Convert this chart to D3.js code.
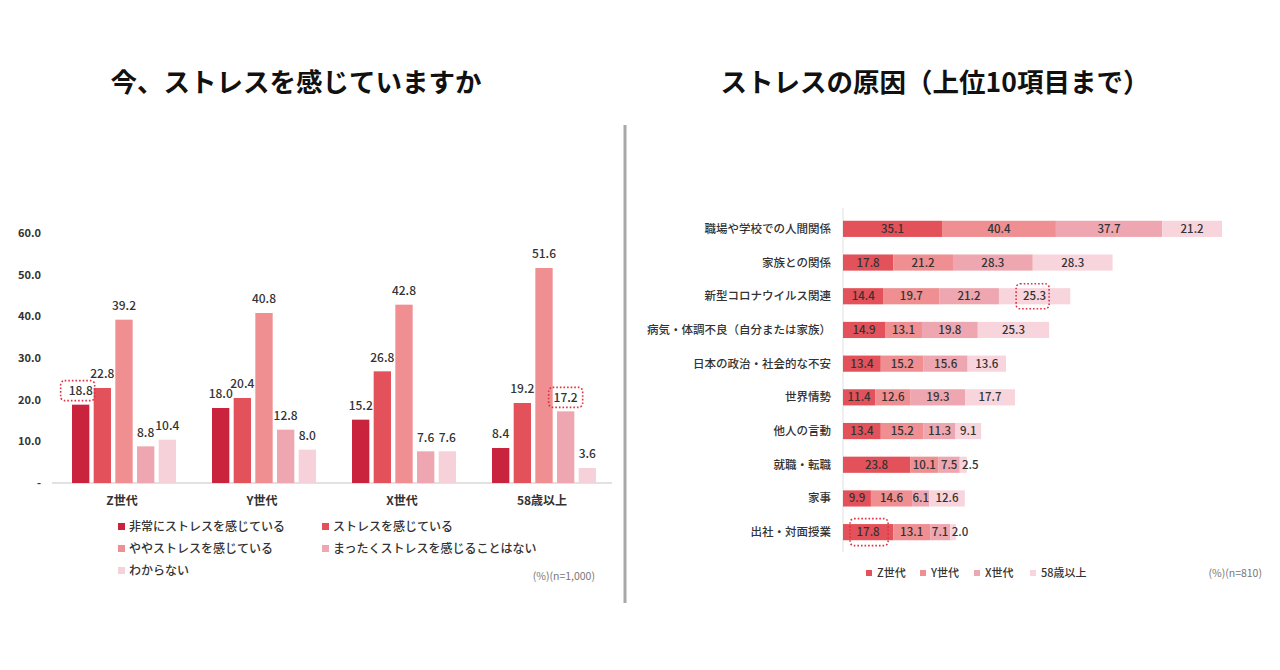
<!DOCTYPE html>
<html>
<head>
<meta charset="utf-8">
<script src="https://cdn.jsdelivr.net/npm/d3@7"></script>
<style>
    html, body { margin: 0; padding: 0; background: #fff; }
    svg { display: block; font-family: 'Noto Sans CJK JP', 'Noto Sans', sans-serif; }
</style>
</head>
<body>
<svg id="chart" width="1280" height="670"></svg>
<script>
// left chart data
var generations = ['Z世代', 'Y世代', 'X世代', '58歳以上'];
var stressLevels = ['非常にストレスを感じている', 'ストレスを感じている', 'ややストレスを感じている', 'まったくストレスを感じることはない', 'わからない'];
var stressValues = [
    [18.8, 22.8, 39.2, 8.8, 10.4],
    [18.0, 20.4, 40.8, 12.8, 8.0],
    [15.2, 26.8, 42.8, 7.6, 7.6],
    [8.4, 19.2, 51.6, 17.2, 3.6]
];
var stressTicks = [0, 10, 20, 30, 40, 50, 60];

// right chart data
var causes = ['職場や学校での人間関係', '家族との関係', '新型コロナウイルス関連', '病気・体調不良（自分または家族）', '日本の政治・社会的な不安', '世界情勢', '他人の言動', '就職・転職', '家事', '出社・対面授業'];
var causeZ = [35.1, 17.8, 14.4, 14.9, 13.4, 11.4, 13.4, 23.8, 9.9, 17.8];
var causeY = [40.4, 21.2, 19.7, 13.1, 15.2, 12.6, 15.2, 10.1, 14.6, 13.1];
var causeX = [37.7, 28.3, 21.2, 19.8, 15.6, 19.3, 11.3, 7.5, 6.1, 7.1];
var cause58 = [21.2, 28.3, 25.3, 25.3, 13.6, 17.7, 9.1, 2.5, 12.6, 2.0];

(function() {
    'use strict';

    var svg = d3.select('#chart');
    var levelColors = ['#c9233e', '#e3525a', '#ef8f91', '#eea7b1', '#f7d1d9'];
    var genColors = ['#e3525a', '#ef8f91', '#eea7b1', '#f8d5dc'];
    var textColor = '#333';
    var groupW = 104;

    /**
     * Dotted highlight box around a label
     */
    function highlight(g, cx, cy, w, h) {
        g.append('rect')
            .attr('x', cx - w / 2)
            .attr('y', cy - h / 2)
            .attr('width', w)
            .attr('height', h)
            .attr('rx', 4)
            .style('fill', 'none')
            .style('stroke', '#e03040')
            .style('stroke-width', 1.6)
            .style('stroke-dasharray', '1.6,2');
    }

    // titles
    svg.append('text')
        .attr('x', 296).attr('y', 92)
        .attr('text-anchor', 'middle')
        .style('font-size', '26.5px').style('font-weight', 700).style('fill', '#111')
        .text('今、ストレスを感じていますか');

    svg.append('text')
        .attr('x', 935).attr('y', 92)
        .attr('text-anchor', 'middle')
        .style('font-size', '26.5px').style('font-weight', 700).style('fill', '#111')
        .text('ストレスの原因（上位10項目まで）');

    // divider
    svg.append('line')
        .attr('x1', 625).attr('x2', 625)
        .attr('y1', 125).attr('y2', 603)
        .style('stroke', '#a8a8a8').style('stroke-width', 3);

    // ---------- left: grouped bars ----------
    var left = svg.append('g');
    var x0 = d3.scaleBand().domain(generations).range([52, 612]);
    var x1 = d3.scaleBand().domain(d3.range(stressLevels.length))
        .range([0, groupW]).paddingInner(0.2);
    var y = d3.scaleLinear().domain([0, 60]).range([483, 233]);

    function groupX(i) {
        return x0(generations[i]) + (x0.bandwidth() - groupW) / 2 + 2;
    }

    left.append('line')
        .attr('x1', 52).attr('x2', 612)
        .attr('y1', y(0)).attr('y2', y(0))
        .style('stroke', '#d9d9d9').style('stroke-width', 1.5);

    left.selectAll('.ytick')
        .data(stressTicks)
        .enter().append('text')
        .attr('class', 'ytick')
        .attr('x', 41)
        .attr('y', function(d) { return y(d); })
        .attr('dy', '0.35em')
        .attr('text-anchor', 'end')
        .style('font-size', '11px').style('font-weight', 700).style('fill', textColor)
        .text(function(d) { return d === 0 ? '-' : d.toFixed(1); });

    left.selectAll('.xlabel')
        .data(generations)
        .enter().append('text')
        .attr('class', 'xlabel')
        .attr('x', function(d) { return x0(d) + x0.bandwidth() / 2; })
        .attr('y', 501)
        .attr('dy', '0.35em')
        .attr('text-anchor', 'middle')
        .style('font-size', '12px').style('font-weight', 700).style('fill', textColor)
        .text(function(d) { return d; });

    var groups = left.selectAll('.grp')
        .data(stressValues)
        .enter().append('g')
        .attr('class', 'grp')
        .attr('transform', function(d, i) { return 'translate(' + groupX(i) + ',0)'; });

    groups.selectAll('rect')
        .data(function(d) { return d; })
        .enter().append('rect')
        .attr('x', function(d, i) { return x1(i); })
        .attr('y', function(d) { return y(d); })
        .attr('width', x1.bandwidth())
        .attr('height', function(d) { return y(0) - y(d); })
        .style('fill', function(d, i) { return levelColors[i]; });

    groups.selectAll('text')
        .data(function(d) { return d; })
        .enter().append('text')
        .attr('x', function(d, i) { return x1(i) + x1.bandwidth() / 2; })
        .attr('y', function(d) { return y(d) - 14; })
        .attr('dy', '0.35em')
        .attr('text-anchor', 'middle')
        .style('font-size', '12px').style('font-weight', 500).style('fill', textColor)
        .text(function(d) { return d.toFixed(1); });

    // highlights on Z世代 / 非常に and 58歳以上 / まったく
    highlight(left, groupX(0) + x1(0) + x1.bandwidth() / 2 - 3, y(stressValues[0][0]) - 14, 34, 20);
    highlight(left, groupX(3) + x1(3) + x1.bandwidth() / 2, y(stressValues[3][3]) - 14, 34, 20);

    // left legend
    var legL = left.selectAll('.legL')
        .data(stressLevels)
        .enter().append('g')
        .attr('class', 'legL')
        .attr('transform', function(d, i) {
            return 'translate(' + (i % 2 ? 322 : 118) + ',' + (527 + Math.floor(i / 2) * 22) + ')';
        });

    legL.append('rect')
        .attr('x', 0).attr('y', -4)
        .attr('width', 7).attr('height', 7)
        .style('fill', function(d, i) { return levelColors[i]; });

    legL.append('text')
        .attr('x', 11).attr('y', 0)
        .attr('dy', '0.35em')
        .style('font-size', '12px').style('font-weight', 500).style('fill', textColor)
        .text(function(d) { return d; });

    left.append('text')
        .attr('x', 595).attr('y', 576)
        .attr('dy', '0.35em')
        .attr('text-anchor', 'end')
        .style('font-size', '10.5px').style('fill', '#777')
        .text('(%)(n=1,000)');

    // ---------- right: stacked bars ----------
    var right = svg.append('g');
    var series = [causeZ, causeY, causeX, cause58];
    var rows = causes.map(function(c, i) {
        var acc = 0;
        return series.map(function(s, k) {
            var seg = { cause: c, k: k, v: s[i], x0: acc, x1: acc + s[i] };
            acc += s[i];
            return seg;
        });
    });

    var yb = d3.scaleBand().domain(causes).range([212, 549]).paddingInner(0.52).paddingOuter(0.26);
    var xb = d3.scaleLinear().domain([0, 134.4]).range([843, 1222]);

    right.append('line')
        .attr('x1', 843).attr('x2', 843)
        .attr('y1', 208).attr('y2', 552)
        .style('stroke', '#e0e0e0').style('stroke-width', 1);

    right.selectAll('.cat')
        .data(causes)
        .enter().append('text')
        .attr('class', 'cat')
        .attr('x', 831)
        .attr('y', function(d) { return yb(d) + yb.bandwidth() / 2; })
        .attr('dy', '0.35em')
        .attr('text-anchor', 'end')
        .style('font-size', '11.5px').style('font-weight', 500).style('fill', textColor)
        .text(function(d) { return d; });

    var rowG = right.selectAll('.row')
        .data(rows)
        .enter().append('g')
        .attr('class', 'row')
        .attr('transform', function(d) { return 'translate(0,' + yb(d[0].cause) + ')'; });

    rowG.selectAll('rect')
        .data(function(d) { return d; })
        .enter().append('rect')
        .attr('x', function(d) { return xb(d.x0); })
        .attr('y', 0)
        .attr('width', function(d) { return xb(d.x1) - xb(d.x0); })
        .attr('height', yb.bandwidth())
        .style('fill', function(d) { return genColors[d.k]; });

    rowG.selectAll('text')
        .data(function(d) { return d; })
        .enter().append('text')
        .attr('x', function(d) { return (xb(d.x0) + xb(d.x1)) / 2 + (d.v < 3 ? 7 : 0); })
        .attr('y', yb.bandwidth() / 2)
        .attr('dy', '0.35em')
        .attr('text-anchor', 'middle')
        .style('font-size', '11.5px').style('font-weight', 500).style('fill', textColor)
        .text(function(d) { return d.v.toFixed(1); });

    // highlights: 新型コロナ 58歳以上, 出社 Z世代
    var r2 = rows[2][3], r9 = rows[9][0];
    highlight(right, (xb(r2.x0) + xb(r2.x1)) / 2 - 2, yb(causes[2]) + yb.bandwidth() / 2, 33, 25);
    highlight(right, (xb(r9.x0) + xb(r9.x1)) / 2 + 1, yb(causes[9]) + yb.bandwidth() / 2, 38, 27);

    // right legend
    var legX = [866, 920, 974, 1030];
    var legR = right.selectAll('.legR')
        .data(generations)
        .enter().append('g')
        .attr('class', 'legR')
        .attr('transform', function(d, i) { return 'translate(' + legX[i] + ',573)'; });

    legR.append('rect')
        .attr('x', 0).attr('y', -3)
        .attr('width', 6).attr('height', 6)
        .style('fill', function(d, i) { return genColors[i]; });

    legR.append('text')
        .attr('x', 11).attr('y', 0)
        .attr('dy', '0.35em')
        .style('font-size', '11px').style('font-weight', 500).style('fill', textColor)
        .text(function(d) { return d; });

    right.append('text')
        .attr('x', 1262).attr('y', 573)
        .attr('dy', '0.35em')
        .attr('text-anchor', 'end')
        .style('font-size', '10.5px').style('fill', '#777')
        .text('(%)(n=810)');
})();
</script>
</body>
</html>
